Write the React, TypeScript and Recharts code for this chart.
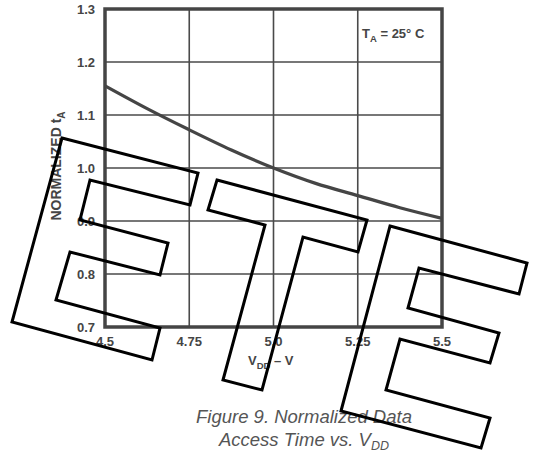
import {
  LineChart,
  Line,
  XAxis,
  YAxis,
  CartesianGrid,
  ReferenceArea,
} from 'recharts';

const vdd = [4.5, 4.625, 4.75, 4.875, 5.0, 5.125, 5.25, 5.375, 5.5];
const normalizedTa = [1.155, 1.112, 1.072, 1.034, 1.0, 0.971, 0.948, 0.925, 0.905];
const xTicks = [4.5, 4.75, 5.0, 5.25, 5.5];
const xTickLabels = ['4.5', '4.75', '5.0', '5.25', '5.5'];
const yTicks = [0.7, 0.8, 0.9, 1.0, 1.1, 1.2, 1.3];

// watermark outline ("ETE" stamp), pixel space of the page
const STAMP = [
  '62,138 198,173 190,205 90,180 80,220 168,243 160,275 70,252 56,300 160,328 152,360 12,322',
  '217,180 367,220 358,252 303,237 262,390 223,380 265,225 208,210',
  '390,226 527,263 519,294 419,268 408,308 499,333 490,363 400,339 386,390 490,418 481,448 341,411',
];

const INK = '#454545';
const FONT = '"Liberation Sans", Arial, sans-serif';

export default function App() {
  const data = vdd.map((v, i) => ({ v, ta: normalizedTa[i] }));
  const tick = { fontSize: 13, fontWeight: 700, fill: INK, fontFamily: FONT };

  return (
    <div style={{ position: 'absolute', left: 0, top: 0, width: 539, height: 454, background: '#fff' }}>
      <LineChart
        width={539}
        height={454}
        data={data}
        margin={{ top: 9, right: 97, left: 65, bottom: 0 }}
      >
        <CartesianGrid stroke="#4a4a4a" strokeWidth={1.6} />
        <XAxis
          dataKey="v"
          type="number"
          domain={[4.5, 5.5]}
          ticks={xTicks}
          tickFormatter={(v) => xTickLabels[xTicks.indexOf(v)] ?? String(v)}
          tick={tick}
          tickLine={false}
          axisLine={false}
          tickSize={0}
          tickMargin={10}
          height={127}
        />
        <YAxis
          type="number"
          domain={[0.7, 1.3]}
          ticks={yTicks}
          tickFormatter={(v) => v.toFixed(1)}
          tick={tick}
          tickLine={false}
          axisLine={false}
          tickSize={0}
          tickMargin={10}
          width={40}
        />
        <ReferenceArea x1={4.5} x2={5.5} y1={0.7} y2={1.3} fill="none" stroke={INK} strokeWidth={3.5} ifOverflow="visible" />
        <Line
          type="monotone"
          dataKey="ta"
          stroke={INK}
          strokeWidth={3.3}
          dot={false}
          isAnimationActive={false}
        />
      </LineChart>

      <svg
        width={539}
        height={454}
        style={{ position: 'absolute', left: 0, top: 0, pointerEvents: 'none' }}
      >
        <text
          transform="translate(61,166) rotate(-90)"
          textAnchor="middle"
          fontSize={14}
          fontWeight={700}
          fill={INK}
          fontFamily={FONT}
        >
          NORMALIZED t<tspan dy={4} fontSize={10}>A</tspan>
        </text>
        <text x={362} y={38} fontSize={13} fontWeight={700} fill={INK} fontFamily={FONT}>
          T<tspan dy={4} fontSize={9.5}>A</tspan>
          <tspan dy={-4}> = 25° C</tspan>
        </text>
        <text x={248} y={365} fontSize={13} fontWeight={700} fill={INK} fontFamily={FONT}>
          V<tspan dy={4} fontSize={9.5}>DD</tspan>
          <tspan dy={-4}> – V</tspan>
        </text>
        <text
          x={304}
          y={423}
          textAnchor="middle"
          fontSize={18.5}
          fontStyle="italic"
          fill="#555"
          fontFamily={FONT}
        >
          Figure 9.  Normalized Data
        </text>
        <text
          x={304}
          y={446}
          textAnchor="middle"
          fontSize={18.5}
          fontStyle="italic"
          fill="#555"
          fontFamily={FONT}
        >
          Access Time vs. V<tspan dy={4} fontSize={12.5}>DD</tspan>
        </text>
        {STAMP.map((pts, i) => (
          <polygon key={i} points={pts} fill="none" stroke="#000" strokeWidth={3} strokeLinejoin="miter" />
        ))}
      </svg>
    </div>
  );
}
